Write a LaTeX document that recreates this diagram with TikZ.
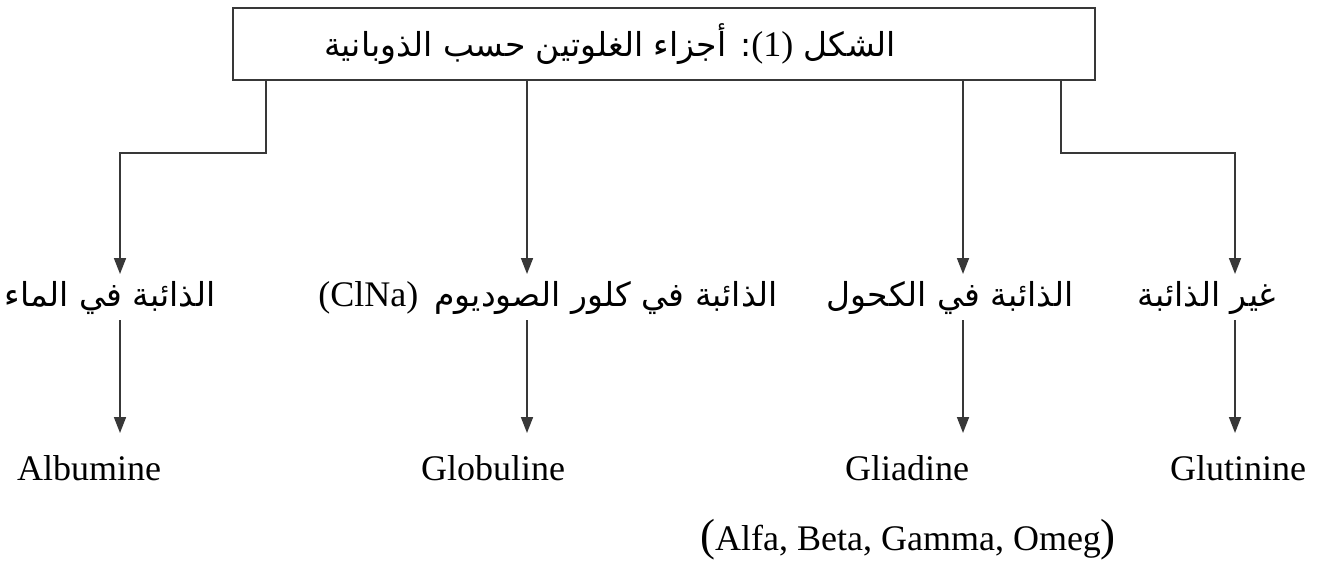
\documentclass[tikz,border=0pt]{standalone}
\usepackage{fontspec}
\setmainfont{Liberation Serif}
\newfontfamily\arabicfont[Script=Arabic]{DejaVu Sans}
\TeXXeTstate=1
\usetikzlibrary{arrows.meta}
\tikzset{
  conn/.style={draw=black!78, line width=1.7pt},
  arr/.style={conn, -{Triangle[length=16pt,width=12pt]}},
  ar/.style={font=\arabicfont\fontsize{33}{38}\selectfont, inner sep=0pt},
  lat/.style={font=\fontsize{36}{40}\selectfont, inner sep=0pt},
  titlebox/.style={draw=black!78, line width=1.7pt, minimum width=862pt, minimum height=72pt},
  titletext/.style={font=\arabicfont\fontsize{33}{38}\selectfont, inner sep=0pt}
}
\begin{document}
\begin{tikzpicture}[x=1pt,y=-1pt]
\useasboundingbox (0,0) rectangle (1329,564);
\fill[white] (0,0) rectangle (1329,564);

\node[titlebox] (title) at (664,44) {};
\node[titletext] (tt) at (610,44) {\beginR الشكل {\rmfamily\fontsize{36}{40}\selectfont (1)}: أجزاء الغلوتين حسب الذوبانية\endR};

% box exits
\coordinate (x1) at (266,0);
\coordinate (x2) at (527,0);
\coordinate (x3) at (963,0);
\coordinate (x4) at (1061,0);
% elbows and arrow tips
\coordinate (e1) at (266,153);
\coordinate (f1) at (120,153);
\coordinate (t1) at (120,274);
\coordinate (t2) at (527,274);
\coordinate (t3) at (963,274);
\coordinate (e4) at (1061,153);
\coordinate (f4) at (1235,153);
\coordinate (t4) at (1235,274);

\draw[arr] (title.south -| x1) -- (e1) -- (f1) -- (t1);
\draw[arr] (title.south -| x2) -- (t2);
\draw[arr] (title.south -| x3) -- (t3);
\draw[arr] (title.south -| x4) -- (e4) -- (f4) -- (t4);

% Arabic labels
\node[ar] (a1) at (110,298) {\beginR الذائبة في الماء\endR};
\node[ar] (a2) at (548,298) {{\rmfamily\fontsize{36}{40}\selectfont (ClNa)}\ \,\beginR الذائبة في كلور الصوديوم\endR};
\node[ar] (a3) at (950,298) {\beginR الذائبة في الكحول\endR};
\node[ar] (a4) at (1207,298) {\beginR غير الذائبة\endR};

% second arrows
\coordinate (s1) at (120,320);
\coordinate (u1) at (120,433);
\coordinate (s2) at (527,320);
\coordinate (u2) at (527,433);
\coordinate (s3) at (963,320);
\coordinate (u3) at (963,433);
\coordinate (s4) at (1235,320);
\coordinate (u4) at (1235,433);
\draw[arr] (s1) -- (u1);
\draw[arr] (s2) -- (u2);
\draw[arr] (s3) -- (u3);
\draw[arr] (s4) -- (u4);

% Latin labels
\node[lat] (l1) at (89,468) {Albumine};
\node[lat] (l2) at (493,468) {Globuline};
\node[lat] (l3) at (907,468) {Gliadine};
\node[lat] (l4) at (1238,468) {Glutinine};
\node[lat] (g) at (908,540) {{\fontsize{45}{45}\selectfont(}Alfa, Beta, Gamma, Omeg{\fontsize{45}{45}\selectfont)}};
\end{tikzpicture}
\end{document}
